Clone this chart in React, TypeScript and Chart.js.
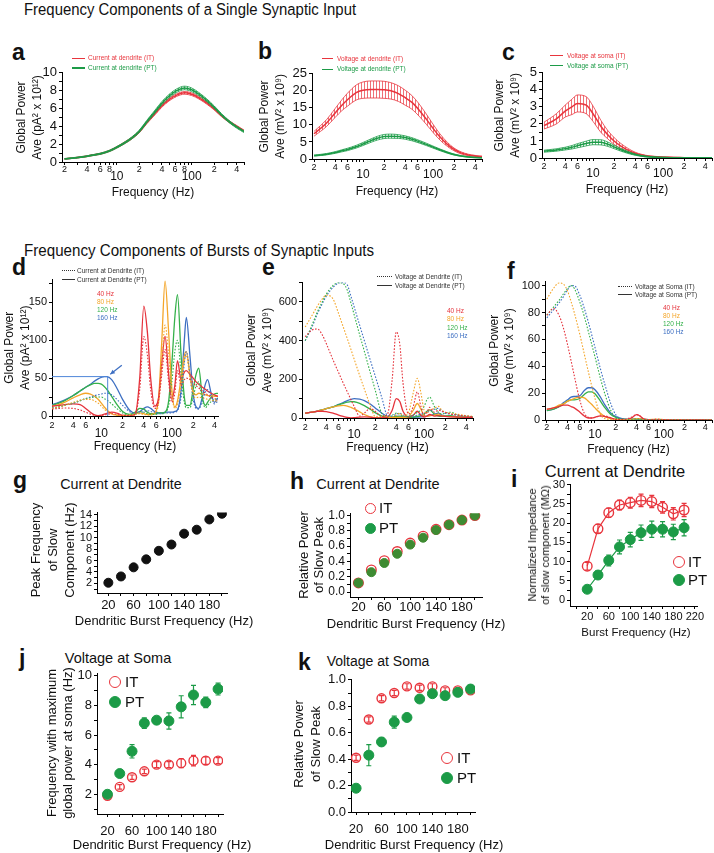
import React, { useEffect, useRef } from 'react';
import { Chart, registerables } from 'chart.js';

Chart.register(...registerables);
const FONT = "'Liberation Sans', Arial, Helvetica, sans-serif";
Chart.defaults.font.family = FONT;
Chart.defaults.color = '#111';

// ---------- colours ----------
const RED = '#e8353d';
const GREEN = '#1c9b47';
const C40 = '#e5323b';
const C80 = '#f4a62a';
const C120 = '#35b14b';
const C160 = '#3d6fc2';

// ---------- panels a-c : single synaptic input ----------
const FREQ_ABC = [2, 3, 4, 5, 6, 8, 10, 13, 16, 20, 25, 32, 40, 50, 63, 80, 100, 125, 160, 200, 250, 320, 400, 500];
const A_IT = [0.35, 0.5, 0.65, 0.8, 0.92, 1.25, 1.65, 2.2, 2.7, 3.4, 4.4, 5.4, 6.3, 7.0, 7.5, 7.75, 7.6, 7.2, 6.6, 5.95, 5.2, 4.5, 4.0, 3.5];
const A_IT_ERR = [0.03, 0.04, 0.05, 0.05, 0.06, 0.07, 0.08, 0.1, 0.1, 0.12, 0.13, 0.15, 0.15, 0.15, 0.15, 0.15, 0.15, 0.14, 0.13, 0.12, 0.11, 0.1, 0.09, 0.08];
const A_PT = [0.35, 0.5, 0.65, 0.8, 0.92, 1.25, 1.65, 2.2, 2.72, 3.45, 4.5, 5.6, 6.6, 7.4, 8.0, 8.3, 8.1, 7.6, 6.9, 6.15, 5.3, 4.5, 3.9, 3.4];
const A_PT_ERR = [0.04, 0.05, 0.05, 0.06, 0.07, 0.08, 0.09, 0.1, 0.12, 0.13, 0.15, 0.17, 0.18, 0.19, 0.2, 0.2, 0.2, 0.18, 0.16, 0.14, 0.13, 0.12, 0.11, 0.1];
const B_IT = [7.4, 10.5, 13.5, 15.8, 17.4, 19.5, 20.2, 20.4, 20.4, 20.3, 20.0, 19.2, 18.0, 16.6, 14.4, 11.7, 9.0, 6.5, 4.3, 2.8, 1.8, 1.2, 0.9, 0.7];
const B_IT_ERR = [0.7, 1.0, 1.3, 1.6, 1.9, 2.2, 2.4, 2.5, 2.5, 2.5, 2.4, 2.3, 2.2, 2.0, 1.8, 1.5, 1.2, 0.9, 0.6, 0.4, 0.3, 0.2, 0.15, 0.1];
const B_PT = [1.0, 1.4, 1.9, 2.4, 2.8, 3.6, 4.4, 5.4, 6.1, 6.6, 6.7, 6.6, 6.3, 5.8, 5.1, 4.3, 3.5, 2.7, 1.9, 1.3, 0.9, 0.6, 0.45, 0.35];
const B_PT_ERR = [0.15, 0.2, 0.25, 0.3, 0.35, 0.4, 0.45, 0.5, 0.55, 0.6, 0.6, 0.55, 0.5, 0.45, 0.4, 0.35, 0.3, 0.25, 0.2, 0.15, 0.1, 0.08, 0.06, 0.05];
const C_IT = [1.9, 2.3, 2.75, 3.0, 3.2, 3.1, 2.6, 1.85, 1.4, 1.0, 0.7, 0.45, 0.28, 0.17, 0.1, 0.07, 0.05, 0.04, 0.03, 0.02, 0.02, 0.01, 0.01, 0.01];
const C_IT_ERR = [0.2, 0.3, 0.35, 0.45, 0.5, 0.5, 0.45, 0.35, 0.25, 0.2, 0.15, 0.1, 0.06, 0.04, 0.03, 0.02, 0.02, 0.01, 0.01, 0.01, 0.01, 0, 0, 0];
const C_PT = [0.4, 0.47, 0.55, 0.63, 0.72, 0.85, 0.93, 0.92, 0.82, 0.65, 0.48, 0.32, 0.2, 0.12, 0.07, 0.04, 0.03, 0.02, 0.02, 0.01, 0.01, 0.01, 0.01, 0.01];
const C_PT_ERR = [0.06, 0.07, 0.08, 0.1, 0.12, 0.14, 0.15, 0.15, 0.13, 0.1, 0.08, 0.06, 0.04, 0.03, 0.02, 0.01, 0.01, 0.01, 0.01, 0, 0, 0, 0, 0];

// ---------- panel d : current at dendrite, bursts ----------
const D_FREQ = [2, 2.5, 3, 4, 5, 6, 7, 8, 9, 10, 11, 12, 14, 17, 20, 25, 30, 35, 40, 45, 50, 57, 65, 72, 80, 90, 100, 110, 120, 135, 150, 160, 180, 200, 220, 240, 270, 300, 320, 360, 400, 450];
const D40_PT = [13, 14, 15, 16, 15, 10, 5, 1.5, 0.5, 1, 2.5, 3.5, 5, 3.5, 1, 0.5, 2, 50, 145, 110, 50, 13, 25, 70, 105, 55, 22, 40, 73, 48, 58, 60, 55, 50, 45, 42, 38, 35, 33, 30, 28, 26];
const D40_IT = [9, 10, 10.5, 10, 8, 5, 2.5, 1, 0.5, 0.8, 1.5, 2, 3, 2, 0.5, 0.5, 2, 35, 105, 80, 35, 10, 20, 55, 88, 45, 18, 30, 60, 40, 48, 50, 48, 44, 40, 37, 33, 30, 28, 25, 23, 21];
const D80_PT = [13, 15, 18, 24, 28, 30, 29, 26, 22, 17, 12, 8, 3, 1, 0.5, 1, 3, 4, 3, 2, 2, 4, 25, 100, 178, 110, 35, 12, 20, 50, 80, 85, 55, 32, 28, 30, 29, 28, 27, 27, 26, 26];
const D80_IT = [10, 12, 14, 18, 21, 22, 22, 20, 17, 13, 9, 6, 2.5, 1, 0.5, 1, 2, 3, 2, 1.5, 1.5, 3, 18, 70, 120, 80, 28, 10, 16, 40, 72, 80, 50, 28, 24, 25, 24, 23, 22, 21, 20, 20];
const D120_PT = [14, 17, 20, 27, 33, 38, 41, 43, 43, 42, 39, 35, 26, 14, 6, 2, 5, 10, 9, 5, 3, 3, 4, 4, 5, 20, 70, 130, 160, 80, 25, 14, 14, 35, 55, 63, 25, 14, 18, 25, 29, 30];
const D120_IT = [10, 12, 14, 17, 20, 23, 24, 25, 25, 25, 23, 21, 16, 9, 4, 1.5, 3, 6, 5, 3, 2, 2, 3, 3, 4, 14, 45, 85, 100, 55, 18, 11, 11, 25, 40, 45, 20, 11, 14, 19, 22, 23];
const D160_PT = [15, 18, 21, 27, 33, 38, 42, 46, 49, 51, 52, 52, 48, 35, 22, 8, 4, 6, 10, 12, 10, 6, 4, 4, 5, 5, 5, 6, 8, 35, 100, 130, 80, 30, 12, 10, 25, 43, 48, 30, 18, 24];
const D160_IT = [11, 12, 14, 17, 20, 23, 25, 27, 28, 29, 30, 30, 28, 21, 14, 6, 3, 4, 6, 7, 6, 4, 3, 3, 4, 4, 4, 5, 7, 25, 70, 85, 55, 22, 10, 9, 20, 32, 35, 25, 16, 20];
const D_MARK = [12.3, 52];
const D_ARROW_FROM = [19.5, 67];
const D_ARROW_TO = [13.4, 55];

// ---------- panel e : voltage at dendrite, bursts ----------
const E_FREQ = [2, 2.5, 3, 3.5, 4, 5, 6, 7, 8, 9, 10, 12, 14, 17, 20, 25, 30, 35, 40, 45, 50, 60, 70, 80, 90, 100, 110, 120, 140, 160, 180, 200, 240, 300, 400, 450, 500];
const E40_IT = [420, 455, 460, 430, 385, 300, 235, 180, 135, 95, 60, 10, 25, 50, 35, 8, 20, 200, 445, 380, 180, 20, 60, 135, 60, 15, 30, 55, 30, 40, 35, 30, 20, 15, 10, 8, 7];
const E80_IT = [470, 530, 580, 615, 635, 615, 540, 470, 410, 355, 305, 220, 150, 65, 8, 10, 8, 5, 15, 25, 10, 30, 130, 205, 130, 40, 25, 40, 50, 60, 40, 30, 25, 20, 12, 10, 9];
const E120_IT = [400, 480, 550, 600, 640, 685, 700, 695, 660, 595, 535, 430, 345, 235, 145, 22, 8, 15, 25, 20, 10, 8, 15, 30, 40, 60, 95, 108, 60, 30, 20, 25, 30, 15, 10, 8, 7];
const E160_IT = [400, 470, 540, 590, 630, 675, 698, 700, 688, 630, 575, 480, 400, 300, 218, 103, 12, 10, 20, 25, 15, 10, 10, 15, 20, 25, 30, 35, 45, 50, 35, 25, 20, 15, 10, 8, 7];
const E40_PT = [25, 30, 35, 35, 33, 25, 15, 8, 3, 1, 2, 5, 6, 4, 1, 1, 5, 40, 100, 85, 35, 5, 15, 35, 15, 5, 10, 18, 10, 12, 10, 8, 6, 5, 3, 3, 3];
const E80_PT = [25, 30, 36, 42, 48, 57, 63, 65, 62, 55, 47, 32, 18, 6, 2, 2, 3, 2, 3, 4, 3, 8, 40, 75, 45, 12, 8, 12, 15, 20, 12, 8, 7, 5, 4, 3, 3];
const E120_PT = [25, 30, 36, 42, 48, 58, 68, 76, 82, 85, 84, 76, 64, 45, 28, 10, 4, 5, 8, 7, 4, 3, 4, 8, 12, 20, 35, 42, 20, 10, 8, 10, 12, 6, 4, 3, 3];
const E160_PT = [25, 30, 36, 42, 48, 58, 70, 80, 90, 96, 100, 98, 90, 72, 52, 25, 8, 5, 8, 10, 8, 4, 4, 5, 6, 8, 10, 12, 20, 25, 15, 10, 8, 6, 4, 3, 3];

// ---------- panel f : voltage at soma, bursts ----------
const F_FREQ = [2, 2.5, 3, 3.5, 4, 4.5, 5, 6, 7, 8, 9, 10, 12, 14, 17, 20, 25, 30, 35, 40, 45, 50, 60, 80, 100, 150, 200, 300, 500];
const F40_IT = [78, 83, 78, 68, 56, 44, 33, 15, 5, 2, 1.5, 2, 3, 3, 1.5, 0.5, 0.5, 1, 2.5, 4, 3, 1, 0.3, 0.5, 0.3, 0.2, 0.1, 0.1, 0];
const F80_IT = [90, 98, 102, 101, 96, 88, 80, 64, 49, 36, 25, 16, 4, 1, 0.5, 0.3, 0.3, 0.3, 0.5, 1, 1, 0.5, 0.3, 0.5, 0.3, 0.2, 0.1, 0, 0];
const F120_IT = [78, 84, 89, 94, 98, 100, 98, 88, 77, 66, 56, 47, 31, 19, 7, 1.5, 0.5, 0.3, 0.5, 0.7, 0.6, 0.4, 0.3, 0.3, 0.2, 0.2, 0.1, 0, 0];
const F160_IT = [76, 82, 87, 92, 97, 100, 100, 93, 83, 73, 63, 54, 38, 26, 12, 4, 0.8, 0.3, 0.5, 0.7, 0.6, 0.4, 0.3, 0.3, 0.2, 0.2, 0.1, 0, 0];
const F40_PT = [8, 9, 10, 11, 11, 10, 9, 6, 3, 1.5, 1.5, 2, 3, 2.5, 1.5, 0.5, 0.3, 0.5, 2, 4, 3, 1, 0.3, 0.3, 0.2, 0.1, 0.1, 0, 0];
const F80_PT = [8, 9, 11, 12, 14, 15, 16, 17, 16.5, 14, 11.5, 9, 5, 2.5, 1, 0.5, 0.3, 0.3, 0.5, 1, 1, 0.5, 0.3, 0.5, 0.3, 0.2, 0.1, 0, 0];
const F120_PT = [7, 8, 10, 12, 14, 15, 15, 16, 19, 21, 21, 19.5, 14, 9, 4, 2, 0.7, 0.5, 0.5, 0.7, 0.6, 0.4, 0.3, 0.3, 0.2, 0.2, 0.1, 0, 0];
const F160_PT = [7, 8, 10, 13, 15, 17, 17.5, 18, 22, 24, 24, 22.5, 17, 11, 5, 2.5, 1, 0.5, 0.5, 0.7, 0.6, 0.4, 0.3, 0.3, 0.2, 0.2, 0.1, 0, 0];

// ---------- panels g-k : vs burst frequency ----------
const BURST = [20, 40, 60, 80, 100, 120, 140, 160, 180, 200];
const G_PEAK = [2.1, 3.2, 4.8, 6.2, 7.7, 8.8, 10.7, 11.4, 13.2, 14.2];
const H_IT = [0.12, 0.29, 0.41, 0.53, 0.64, 0.73, 0.82, 0.88, 0.94, 1.0];
const H_PT = [0.12, 0.26, 0.38, 0.5, 0.62, 0.71, 0.81, 0.88, 0.94, 1.0];
const I_IT = [8.8, 18.5, 22.7, 24.7, 25.3, 25.9, 25.6, 24.1, 22.4, 23.4];
const I_IT_ERR = [1.0, 1.2, 1.2, 1.3, 1.4, 1.6, 1.6, 1.5, 1.6, 1.7];
const I_PT = [2.8, 6.5, 10.3, 13.8, 15.7, 17.5, 18.4, 18.4, 17.7, 18.8];
const I_PT_ERR = [0.6, 1.0, 1.4, 1.8, 1.9, 2.0, 2.1, 2.0, 2.0, 2.1];
const J_IT = [1.9, 2.5, 3.15, 3.55, 4.0, 4.0, 4.1, 4.27, 4.27, 4.27];
const J_IT_ERR = [0.15, 0.15, 0.15, 0.15, 0.2, 0.2, 0.3, 0.35, 0.25, 0.2];
const J_PT = [2.0, 3.4, 4.9, 6.8, 7.0, 6.95, 7.9, 8.7, 8.2, 9.1];
const J_PT_ERR = [0.05, 0.25, 0.45, 0.35, 0.25, 0.55, 0.75, 0.65, 0.35, 0.4];
const K_IT = [0.41, 0.7, 0.86, 0.9, 0.95, 0.94, 0.95, 0.92, 0.92, 0.92];
const K_IT_ERR = [0.02, 0.02, 0.02, 0.02, 0.02, 0.02, 0.02, 0.02, 0.02, 0.02];
const K_PT = [0.18, 0.43, 0.53, 0.68, 0.715, 0.855, 0.895, 0.88, 0.905, 0.93];
const K_PT_ERR = [0.01, 0.08, 0.03, 0.045, 0.025, 0.01, 0.02, 0.015, 0.015, 0.01];

// ---------- tick labels ----------
const LOG_LABELS_A: Record<number, string> = { 2: '2', 4: '4', 6: '6', 8: '8', 10: '10', 20: '2', 40: '4', 60: '6', 80: '8', 100: '100', 200: '2', 400: '4' };
const LOG_LABELS: Record<number, string> = { 2: '2', 4: '4', 6: '6', 10: '10', 20: '2', 40: '4', 60: '6', 100: '100', 200: '2', 400: '4' };
const MAJOR = [10, 100];
const BURST_LABELS = [20, 60, 100, 140, 180, 220];

// ---------- helpers ----------
const GRID = { display: true, drawOnChartArea: false, drawTicks: true, tickLength: 3, color: '#000', lineWidth: 1 };
const BORDER = { display: true, color: '#000', width: 1 };

function logX(min: number, max: number, labels: Record<number, string>, xH: number, pad: number) {
  const vals: number[] = [];
  [1, 10, 100].forEach((d) => {
    for (let k = 1; k < 10; k++) {
      const v = k * d;
      if (v >= min && v <= max) vals.push(v);
    }
  });
  return {
    type: 'logarithmic',
    min,
    max,
    afterBuildTicks: (ax: any) => {
      ax.ticks = vals.map((v) => ({ value: v }));
    },
    afterFit: (s: any) => {
      s.height = xH;
    },
    ticks: {
      autoSkip: false,
      maxRotation: 0,
      minRotation: 0,
      padding: pad,
      color: '#111',
      callback: (v: number) => {
        const lab = labels[v];
        if (!lab) return '';
        return MAJOR.includes(v) ? ['', lab] : lab;
      },
      font: (c: any) =>
        c.tick && MAJOR.includes(c.tick.value) ? { size: 12, lineHeight: 0.65 } : { size: 9, lineHeight: 1 },
    },
    grid: GRID,
    border: BORDER,
    title: { display: true, text: 'Frequency (Hz)', font: { size: 12, lineHeight: 1.2 }, padding: { top: 0, bottom: 2 }, color: '#111' },
  };
}

function linX(min: number, max: number, step: number, size: number, xH: number, pad: number) {
  return {
    type: 'linear',
    min,
    max,
    afterFit: (s: any) => {
      s.height = xH;
    },
    ticks: {
      stepSize: step,
      includeBounds: false,
      autoSkip: false,
      maxRotation: 0,
      minRotation: 0,
      padding: pad,
      color: '#111',
      font: { size, lineHeight: 1 },
      callback: (v: number) => (BURST_LABELS.includes(Math.round(v)) ? String(Math.round(v)) : ''),
    },
    grid: GRID,
    border: BORDER,
    title: { display: false },
  };
}

function linY(min: number, max: number, step: number, labelFn: (v: number) => string, size: number, yW: number, title?: string[], tSize = 12, tLH = 1.3, tPad = 0) {
  return {
    type: 'linear',
    min,
    max,
    afterFit: (s: any) => {
      s.width = yW;
    },
    ticks: { stepSize: step, includeBounds: false, autoSkip: false, padding: 2, color: '#111', font: { size }, callback: labelFn },
    grid: GRID,
    border: BORDER,
    title: title
      ? { display: true, text: title, font: { size: tSize, lineHeight: tLH }, padding: { top: tPad, bottom: 0 }, color: '#111' }
      : { display: false },
  };
}

const everyN = (n: number) => (v: number) => (Math.abs(v / n - Math.round(v / n)) < 1e-6 ? String(Math.round(v * 10) / 10) : '');
const tenths = (v: number) => (Math.round(v * 10) % 2 === 0 ? v.toFixed(1) : '');

function hatch(color: string) {
  const c = document.createElement('canvas');
  c.width = 3;
  c.height = 6;
  const g = c.getContext('2d')!;
  g.fillStyle = color;
  g.fillRect(1, 0, 1, 6);
  return g.createPattern(c, 'repeat');
}

const xy = (xs: number[], ys: number[]) => xs.map((x, i) => ({ x, y: ys[i] }));

function band(freq: number[], mean: number[], err: number[], color: string, hatchColor: string) {
  const base = { pointRadius: 0, cubicInterpolationMode: 'monotone', borderColor: color };
  return [
    { ...base, data: freq.map((f, i) => ({ x: f, y: mean[i] + err[i] })), borderWidth: 0.8, fill: false },
    { ...base, data: freq.map((f, i) => ({ x: f, y: Math.max(0, mean[i] - err[i]) })), borderWidth: 0.8, fill: '-1', backgroundColor: hatch(hatchColor) },
    { ...base, data: xy(freq, mean), borderWidth: 1.5, fill: false },
  ];
}

function curve(freq: number[], vals: number[], color: string, dotted: boolean) {
  return {
    data: xy(freq, vals),
    borderColor: color,
    borderWidth: dotted ? 1.1 : 1.3,
    borderDash: dotted ? [1.6, 1.6] : [],
    pointRadius: 0,
    fill: false,
    cubicInterpolationMode: 'monotone',
  };
}

function pts(ys: number[], color: string, hollow: boolean, r: number, errs?: number[], line = false) {
  return {
    data: xy(BURST, ys),
    showLine: line,
    borderColor: color,
    borderWidth: 1.2,
    pointRadius: r,
    pointBorderWidth: hollow ? 1.4 : 1,
    pointBorderColor: color,
    pointBackgroundColor: hollow ? 'rgba(255,255,255,0)' : color,
    errors: errs,
  };
}

const errorBarPlugin = {
  id: 'errorBars',
  beforeDatasetDraw(chart: any, args: any) {
    const ds = chart.data.datasets[args.index];
    if (!ds.errors) return;
    const ys = chart.scales.y;
    const ctx = chart.ctx;
    ctx.save();
    ctx.strokeStyle = ds.borderColor;
    ctx.lineWidth = 1.2;
    args.meta.data.forEach((p: any, i: number) => {
      const e = ds.errors[i];
      if (!e) return;
      const v = ds.data[i].y;
      const y1 = ys.getPixelForValue(v + e);
      const y2 = ys.getPixelForValue(v - e);
      ctx.beginPath();
      ctx.moveTo(p.x, y1);
      ctx.lineTo(p.x, y2);
      ctx.moveTo(p.x - 2.5, y1);
      ctx.lineTo(p.x + 2.5, y1);
      ctx.moveTo(p.x - 2.5, y2);
      ctx.lineTo(p.x + 2.5, y2);
      ctx.stroke();
    });
    ctx.restore();
  },
};

const dMarkerPlugin = {
  id: 'dMarker',
  afterDatasetsDraw(chart: any) {
    const { x, y } = chart.scales;
    const ctx = chart.ctx;
    const px = x.getPixelForValue(D_MARK[0]);
    const py = y.getPixelForValue(D_MARK[1]);
    const p0 = y.getPixelForValue(0);
    ctx.save();
    ctx.strokeStyle = '#4f86d9';
    ctx.fillStyle = '#3d6fc2';
    ctx.lineWidth = 1;
    ctx.beginPath();
    ctx.moveTo(x.left, py);
    ctx.lineTo(px, py);
    ctx.lineTo(px, p0);
    ctx.stroke();
    const ax = x.getPixelForValue(D_ARROW_FROM[0]);
    const ay = y.getPixelForValue(D_ARROW_FROM[1]);
    const bx = x.getPixelForValue(D_ARROW_TO[0]);
    const by = y.getPixelForValue(D_ARROW_TO[1]);
    ctx.strokeStyle = '#3d6fc2';
    ctx.lineWidth = 1.2;
    ctx.beginPath();
    ctx.moveTo(ax, ay);
    ctx.lineTo(bx, by);
    ctx.stroke();
    const ang = Math.atan2(by - ay, bx - ax);
    ctx.beginPath();
    ctx.moveTo(bx, by);
    ctx.lineTo(bx - 5 * Math.cos(ang - 0.45), by - 5 * Math.sin(ang - 0.45));
    ctx.lineTo(bx - 5 * Math.cos(ang + 0.45), by - 5 * Math.sin(ang + 0.45));
    ctx.closePath();
    ctx.fill();
    ctx.restore();
  },
};

type Geo = { l: number; t: number; r: number; b: number; yW: number; xH: number; pt: number; pr: number };

function baseOptions(geo: Geo, scales: any) {
  return {
    responsive: false,
    maintainAspectRatio: false,
    animation: false,
    devicePixelRatio: 1,
    events: [],
    layout: { padding: { left: 0, top: geo.pt, right: geo.pr, bottom: 0 } },
    plugins: { legend: { display: false }, tooltip: { enabled: false } },
    scales,
  };
}

function Panel({ geo, build }: { geo: Geo; build: () => any }) {
  const ref = useRef<HTMLCanvasElement | null>(null);
  useEffect(() => {
    if (!ref.current) return;
    const chart = new Chart(ref.current, build());
    return () => chart.destroy();
  }, []);
  const W = geo.r - geo.l + geo.yW + geo.pr;
  const H = geo.b - geo.t + geo.pt + geo.xH;
  return (
    <canvas
      ref={ref}
      width={W}
      height={H}
      style={{ position: 'absolute', left: geo.l - geo.yW, top: geo.t - geo.pt, width: W, height: H, display: 'block' }}
    />
  );
}

// ---------- geometry ----------
const GEO_A: Geo = { l: 62, t: 71, r: 244, b: 162, yW: 62, xH: 40, pt: 8, pr: 8 };
const GEO_B: Geo = { l: 312, t: 72, r: 482, b: 159, yW: 60, xH: 42, pt: 8, pr: 6 };
const GEO_C: Geo = { l: 542, t: 71, r: 712, b: 158, yW: 50, xH: 41, pt: 8, pr: 2 };
const GEO_D: Geo = { l: 52, t: 277, r: 218, b: 416, yW: 52, xH: 40, pt: 6, pr: 6 };
const GEO_E: Geo = { l: 302, t: 280, r: 473, b: 418, yW: 60, xH: 39, pt: 6, pr: 6 };
const GEO_F: Geo = { l: 545, t: 279, r: 712, b: 420, yW: 58, xH: 39, pt: 6, pr: 2 };
const GEO_G: Geo = { l: 97, t: 512, r: 227, b: 593, yW: 30, xH: 26, pt: 8, pr: 8 };
const GEO_H: Geo = { l: 350, t: 512, r: 482, b: 597, yW: 30, xH: 24, pt: 8, pr: 8 };
const GEO_I: Geo = { l: 570, t: 484, r: 697, b: 606, yW: 24, xH: 24, pt: 8, pr: 10 };
const GEO_J: Geo = { l: 97, t: 672, r: 223, b: 814, yW: 30, xH: 30, pt: 8, pr: 8 };
const GEO_K: Geo = { l: 351, t: 678, r: 475, b: 812, yW: 32, xH: 30, pt: 8, pr: 10 };

// ---------- chart builders ----------
const buildA = () => ({
  type: 'line',
  data: { datasets: [...band(FREQ_ABC, A_PT, A_PT_ERR, GREEN, 'rgba(28,155,71,0.8)'), ...band(FREQ_ABC, A_IT, A_IT_ERR, RED, 'rgba(232,53,61,0.8)')] },
  options: baseOptions(GEO_A, {
    x: logX(1.85, 500, LOG_LABELS_A, GEO_A.xH, 0),
    y: linY(0, 10, 1, everyN(2), 13, GEO_A.yW, ['Global Power', 'Ave (pA² x 10¹²)'], 12, 1.3, 14),
  }),
});
const buildB = () => ({
  type: 'line',
  data: { datasets: [...band(FREQ_ABC, B_PT, B_PT_ERR, GREEN, 'rgba(28,155,71,0.75)'), ...band(FREQ_ABC, B_IT, B_IT_ERR, RED, 'rgba(232,53,61,0.7)')] },
  options: baseOptions(GEO_B, {
    x: logX(1.87, 500, LOG_LABELS, GEO_B.xH, 1),
    y: linY(0, 25, 5, everyN(5), 13, GEO_B.yW, ['Global Power', 'Ave (mV² x 10⁹)'], 12, 1.3, 5),
  }),
});
const buildC = () => ({
  type: 'line',
  data: { datasets: [...band(FREQ_ABC, C_PT, C_PT_ERR, GREEN, 'rgba(28,155,71,0.75)'), ...band(FREQ_ABC, C_IT, C_IT_ERR, RED, 'rgba(232,53,61,0.7)')] },
  options: baseOptions(GEO_C, {
    x: logX(1.87, 500, LOG_LABELS, GEO_C.xH, 1),
    y: linY(0, 5, 0.5, everyN(1), 13, GEO_C.yW, ['Global Power', 'Ave (mV² x 10⁹)'], 12, 1.3, 0),
  }),
});
const buildD = () => ({
  type: 'line',
  data: {
    datasets: [
      curve(D_FREQ, D40_IT, C40, true),
      curve(D_FREQ, D80_IT, C80, true),
      curve(D_FREQ, D120_IT, C120, true),
      curve(D_FREQ, D160_IT, C160, true),
      curve(D_FREQ, D40_PT, C40, false),
      curve(D_FREQ, D80_PT, C80, false),
      curve(D_FREQ, D120_PT, C120, false),
      curve(D_FREQ, D160_PT, C160, false),
    ],
  },
  options: baseOptions(GEO_D, {
    x: logX(2, 450, LOG_LABELS, GEO_D.xH, 2.5),
    y: linY(0, 180, 25, everyN(50), 11, GEO_D.yW, ['Global Power', 'Ave (pA² x 10¹²)'], 12, 1.3, 2),
  }),
  plugins: [dMarkerPlugin],
});
const buildE = () => ({
  type: 'line',
  data: {
    datasets: [
      curve(E_FREQ, E40_IT, C40, true),
      curve(E_FREQ, E80_IT, C80, true),
      curve(E_FREQ, E120_IT, C120, true),
      curve(E_FREQ, E160_IT, C160, true),
      curve(E_FREQ, E40_PT, C40, false),
      curve(E_FREQ, E80_PT, C80, false),
      curve(E_FREQ, E120_PT, C120, false),
      curve(E_FREQ, E160_PT, C160, false),
    ],
  },
  options: baseOptions(GEO_E, {
    x: logX(1.8, 500, LOG_LABELS, GEO_E.xH, 2),
    y: linY(0, 700, 100, everyN(200), 11, GEO_E.yW, ['Global Power', 'Ave (mV² x 10⁹)'], 12, 1.3, 2),
  }),
});
const buildF = () => ({
  type: 'line',
  data: {
    datasets: [
      curve(F_FREQ, F40_IT, C40, true),
      curve(F_FREQ, F80_IT, C80, true),
      curve(F_FREQ, F120_IT, C120, true),
      curve(F_FREQ, F160_IT, C160, true),
      curve(F_FREQ, F40_PT, C40, false),
      curve(F_FREQ, F80_PT, C80, false),
      curve(F_FREQ, F120_PT, C120, false),
      curve(F_FREQ, F160_PT, C160, false),
    ],
  },
  options: baseOptions(GEO_F, {
    x: logX(1.88, 500, LOG_LABELS, GEO_F.xH, 0),
    y: linY(0, 103, 10, everyN(20), 11, GEO_F.yW, ['Global Power', 'Ave (mV² x 10⁹)'], 12, 1.25, 0),
  }),
});
const buildG = () => ({
  type: 'line',
  data: { datasets: [pts(G_PEAK, '#111', false, 4.5)] },
  options: baseOptions(GEO_G, {
    x: linX(2, 208, 20, 13, GEO_G.xH, 2.5),
    y: linY(0.3, 14.4, 1, everyN(2), 11, GEO_G.yW),
  }),
});
const buildH = () => ({
  type: 'line',
  data: { datasets: [pts(H_PT, '#3e8b32', false, 4.5), pts(H_IT, RED, true, 4.8)] },
  options: baseOptions(GEO_H, {
    x: linX(7, 211, 20, 13, GEO_H.xH, 1),
    y: linY(-0.064, 1.03, 0.1, tenths, 12, GEO_H.yW),
  }),
});
const buildI = () => ({
  type: 'line',
  data: { datasets: [pts(I_PT, GREEN, false, 5, I_PT_ERR, true), pts(I_IT, RED, true, 4.8, I_IT_ERR, true)] },
  options: baseOptions(GEO_I, {
    x: linX(-12, 224, 20, 11, GEO_I.xH, 2.5),
    y: linY(-1.55, 30, 2.5, everyN(5), 11, GEO_I.yW),
  }),
  plugins: [errorBarPlugin],
});
const buildJ = () => ({
  type: 'line',
  data: { datasets: [pts(J_PT, GREEN, false, 5, J_PT_ERR), pts(J_IT, RED, true, 4.5, J_IT_ERR)] },
  options: baseOptions(GEO_J, {
    x: linX(3, 208, 20, 13, GEO_J.xH, 8),
    y: linY(0.67, 10.13, 1, everyN(2), 13, GEO_J.yW),
  }),
  plugins: [errorBarPlugin],
});
const buildK = () => ({
  type: 'line',
  data: { datasets: [pts(K_PT, GREEN, false, 5, K_PT_ERR), pts(K_IT, RED, true, 4.5, K_IT_ERR)] },
  options: baseOptions(GEO_K, {
    x: linX(12, 207, 20, 13, GEO_K.xH, 8),
    y: linY(0, 1.0, 0.1, tenths, 13, GEO_K.yW),
  }),
  plugins: [errorBarPlugin],
});

// ---------- DOM text helpers ----------
function T({ x, cy, s, c = '#111', b = false, mid = false, sx = 1, children }: any) {
  const tf = [mid ? 'translateX(-50%)' : '', sx !== 1 ? `scaleX(${sx})` : ''].filter(Boolean).join(' ');
  return (
    <div
      style={{
        position: 'absolute',
        left: x,
        top: cy - 0.6 * s,
        fontSize: s,
        lineHeight: `${1.2 * s}px`,
        color: c,
        fontWeight: b ? 700 : 400,
        whiteSpace: 'nowrap',
        transform: tf || undefined,
        transformOrigin: 'left center',
      }}
    >
      {children}
    </div>
  );
}
function VT({ cx, cy, s, lh, lines }: any) {
  return (
    <div
      style={{
        position: 'absolute',
        left: cx,
        top: cy,
        fontSize: s,
        lineHeight: `${lh}px`,
        color: '#111',
        whiteSpace: 'nowrap',
        textAlign: 'center',
        transform: 'translate(-50%, -50%) rotate(-90deg)',
      }}
    >
      {lines.map((l: string) => (
        <div key={l}>{l}</div>
      ))}
    </div>
  );
}
function Ln({ x1, x2, cy, c, w = 1.5, dotted = false }: any) {
  return (
    <div style={{ position: 'absolute', left: x1, top: cy - w / 2, width: x2 - x1, height: 0, borderTop: `${w}px ${dotted ? 'dotted' : 'solid'} ${c}` }} />
  );
}
function Dot({ cx, cy, r, c, hollow }: any) {
  return (
    <div
      style={{
        position: 'absolute',
        left: cx - r,
        top: cy - r,
        width: 2 * r,
        height: 2 * r,
        borderRadius: '50%',
        boxSizing: 'border-box',
        border: `1.6px solid ${c}`,
        background: hollow ? 'transparent' : c,
      }}
    />
  );
}

function HzList({ x, y0, dy }: any) {
  const items: [string, string][] = [['40 Hz', C40], ['80 Hz', C80], ['120 Hz', C120], ['160 Hz', C160]];
  return (
    <>
      {items.map(([t, c], i) => (
        <T key={t} x={x} cy={y0 + i * dy} s={6.5} c={c}>
          {t}
        </T>
      ))}
    </>
  );
}

export default function App() {
  return (
    <div style={{ position: 'absolute', left: 0, top: 0, width: 714, height: 853, overflow: 'hidden', background: '#fff', fontFamily: FONT }}>
      <T x={24} cy={10} s={16.3} sx={0.915}>Frequency Components of a Single Synaptic Input</T>
      <T x={24} cy={251} s={16.3} sx={0.93}>Frequency Components of Bursts of Synaptic Inputs</T>

      {/* panel letters */}
      <T x={12} cy={53} s={23} b>a</T>
      <T x={258} cy={52} s={23} b>b</T>
      <T x={502} cy={53} s={23} b>c</T>
      <T x={12} cy={268} s={23} b>d</T>
      <T x={262} cy={268} s={23} b>e</T>
      <T x={507} cy={272} s={23} b>f</T>
      <T x={13} cy={481} s={23} b>g</T>
      <T x={290} cy={482} s={23} b>h</T>
      <T x={511} cy={480} s={23} b>i</T>
      <T x={19} cy={659} s={23} b>j</T>
      <T x={298} cy={663} s={23} b>k</T>

      {/* titles of g-k */}
      <T x={121} cy={485} s={14.3} mid>Current at Dendrite</T>
      <T x={378} cy={485} s={14.5} mid>Current at Dendrite</T>
      <T x={615} cy={472} s={16.5} mid>Current at Dendrite</T>
      <T x={118} cy={659} s={14.5} mid>Voltage at Soma</T>
      <T x={378} cy={661} s={14} mid>Voltage at Soma</T>

      <Panel geo={GEO_A} build={buildA} />
      <Panel geo={GEO_B} build={buildB} />
      <Panel geo={GEO_C} build={buildC} />
      <Panel geo={GEO_D} build={buildD} />
      <Panel geo={GEO_E} build={buildE} />
      <Panel geo={GEO_F} build={buildF} />
      <Panel geo={GEO_G} build={buildG} />
      <Panel geo={GEO_H} build={buildH} />
      <Panel geo={GEO_I} build={buildI} />
      <Panel geo={GEO_J} build={buildJ} />
      <Panel geo={GEO_K} build={buildK} />

      {/* axis titles of g-k */}
      <VT cx={52} cy={550} s={13} lh={17} lines={['Peak Frequency', 'of Slow', 'Component (Hz)']} />
      <T x={164} cy={621} s={13} mid>Dendritic Burst Frequency (Hz)</T>
      <VT cx={310.5} cy={555} s={13} lh={15} lines={['Relative Power', 'of Slow Peak']} />
      <T x={416} cy={624} s={13} mid>Dendritic Burst Frequency (Hz)</T>
      <VT cx={538.5} cy={545} s={11} lh={13} lines={['Normalized Impedance', 'of slow component (MΩ)']} />
      <T x={636} cy={633} s={11.5} mid>Burst Frequency (Hz)</T>
      <VT cx={60} cy={743} s={13} lh={16} lines={['Frequency with maximum', 'global power at soma (Hz)']} />
      <T x={162} cy={845} s={13} mid>Dendritic Burst Frequency (Hz)</T>
      <VT cx={306.5} cy={744} s={13} lh={17} lines={['Relative Power', 'of Slow Peak']} />
      <T x={414} cy={845} s={13} mid>Dendritic Burst Frequency (Hz)</T>

      {/* legends a-c */}
      <Ln x1={72} x2={85} cy={58.3} c={RED} />
      <T x={88} cy={58.3} s={6.5} c={RED}>Current at dendrite (IT)</T>
      <Ln x1={72} x2={85} cy={68.3} c={GREEN} w={2} />
      <T x={88} cy={68.3} s={6.5} c={GREEN}>Current at dendrite (PT)</T>
      <Ln x1={322} x2={333} cy={59} c={RED} />
      <T x={337} cy={59} s={6.5} c={RED}>Voltage at dendrite (IT)</T>
      <Ln x1={322} x2={333} cy={69.3} c={GREEN} />
      <T x={337} cy={69.3} s={6.5} c={GREEN}>Voltage at dendrite (PT)</T>
      <Ln x1={550} x2={563} cy={55.7} c={RED} />
      <T x={567} cy={55.7} s={6.5} c={RED}>Voltage at soma (IT)</T>
      <Ln x1={550} x2={563} cy={66} c={GREEN} />
      <T x={567} cy={66} s={6.5} c={GREEN}>Voltage at soma (PT)</T>

      {/* legends d-f */}
      <Ln x1={62} x2={75} cy={271} c="#333" dotted />
      <T x={77} cy={271} s={6.5} c="#333">Current at Dendrite (IT)</T>
      <Ln x1={62} x2={75} cy={280} c="#333" />
      <T x={77} cy={280} s={6.5} c="#333">Current at Dendrite (PT)</T>
      <HzList x={97} y0={294} dy={8.1} />
      <Ln x1={377} x2={392} cy={277} c="#333" dotted />
      <T x={395} cy={277} s={6.5} c="#333">Voltage at Dendrite (IT)</T>
      <Ln x1={377} x2={392} cy={286} c="#333" />
      <T x={395} cy={286} s={6.5} c="#333">Voltage at Dendrite (PT)</T>
      <HzList x={447} y0={311} dy={8.2} />
      <Ln x1={618} x2={632} cy={287} c="#333" dotted />
      <T x={635} cy={287} s={6.5} c="#333">Voltage at Soma (IT)</T>
      <Ln x1={618} x2={632} cy={295} c="#333" />
      <T x={635} cy={295} s={6.5} c="#333">Voltage at Soma (PT)</T>
      <HzList x={663} y0={308} dy={8} />

      {/* legends h-k */}
      <Dot cx={370} cy={508} r={5.5} c={RED} hollow />
      <T x={379} cy={508} s={15}>IT</T>
      <Dot cx={370} cy={528} r={5.5} c={GREEN} />
      <T x={379} cy={528} s={15}>PT</T>
      <Dot cx={679} cy={562} r={6} c={RED} hollow />
      <T x={688} cy={562} s={15}>IT</T>
      <Dot cx={679} cy={580} r={6} c={GREEN} />
      <T x={688} cy={580} s={15}>PT</T>
      <Dot cx={115} cy={682} r={6} c={RED} hollow />
      <T x={125} cy={682} s={15}>IT</T>
      <Dot cx={115} cy={702} r={6} c={GREEN} />
      <T x={125} cy={702} s={15}>PT</T>
      <Dot cx={447} cy={758} r={6} c={RED} hollow />
      <T x={457} cy={758} s={15}>IT</T>
      <Dot cx={447} cy={778} r={6} c={GREEN} />
      <T x={457} cy={778} s={15}>PT</T>
    </div>
  );
}
